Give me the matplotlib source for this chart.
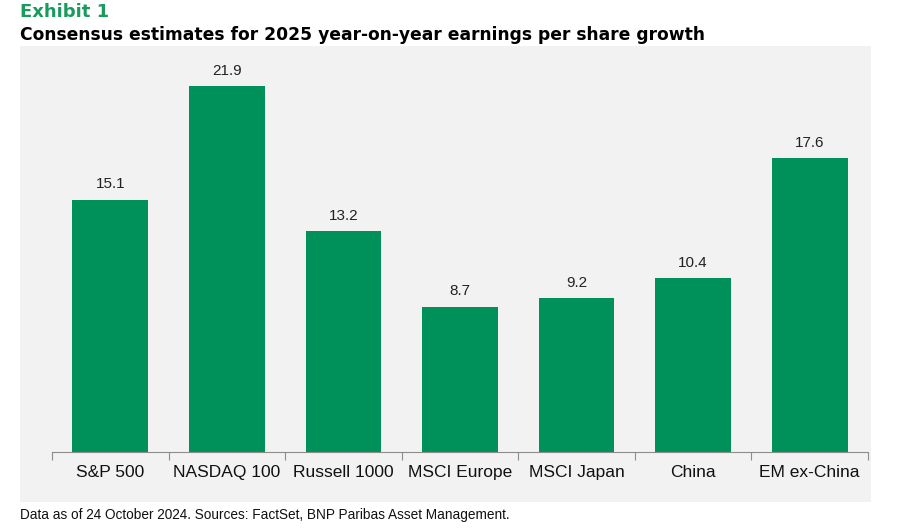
import matplotlib.pyplot as plt
import numpy as np
from matplotlib.patches import Rectangle

# Dati
categories = ["S&P 500", "NASDAQ 100", "Russell 1000", "MSCI Europe", "MSCI Japan", "China", "EM ex-China"]
eps_growth = [15.1, 21.9, 13.2, 8.7, 9.2, 10.4, 17.6]

green = "#00915A"
narrow = ["Liberation Sans Narrow", "Liberation Sans", "DejaVu Sans"]

fig = plt.figure(figsize=(9.15, 5.29), dpi=100)

# Pannello grigio di sfondo
fig.patches.append(Rectangle((20 / 915, 1 - 502 / 529), 851 / 915, 456 / 529,
                             transform=fig.transFigure, facecolor="#f2f2f2",
                             edgecolor="none", zorder=-5))

ax = fig.add_axes([52 / 915, 1 - 452 / 529, 816 / 915, 401 / 529])
ax.set_facecolor("none")
ax.set_zorder(2)

x = np.arange(len(categories))
bars = ax.bar(x, eps_growth, width=0.65, color=green, zorder=2)
for xi, v in zip(x, eps_growth):
    ax.text(xi, v + 0.5, f"{v:.1f}", ha="center", va="bottom", fontsize=11,
            family=narrow, color="#222222")

ax.set_xlim(-0.5, len(categories) - 0.5)
ax.set_ylim(0, 24)
ax.set_yticks([])
for s in ["top", "right", "left"]:
    ax.spines[s].set_visible(False)
ax.spines["bottom"].set_color("#8c8c8c")

# Tacche ai confini delle categorie
ax.set_xticks(np.arange(-0.5, len(categories), 1.0))
ax.set_xticklabels([])
ax.tick_params(axis="x", length=6, color="#8c8c8c", direction="out")
for xi, lab in zip(x, categories):
    ax.text(xi, -0.75, lab, ha="center", va="top", fontsize=12.5,
            family=narrow, color="#111111")

fig.text(20 / 915, 1 - 12 / 529, "Exhibit 1", ha="left", va="center",
         fontsize=13, fontweight="bold", color="#1a9a5e")
fig.text(20 / 915, 1 - 35 / 529, "Consensus estimates for 2025 year-on-year earnings per share growth",
         ha="left", va="center", fontsize=12.3, fontweight="bold", color="black")
fig.text(20 / 915, 1 - 515 / 529, "Data as of 24 October 2024. Sources: FactSet, BNP Paribas Asset Management.",
         ha="left", va="center", fontsize=9.8, color="#111111", family=narrow)

fig.savefig("out.png", dpi=100)
